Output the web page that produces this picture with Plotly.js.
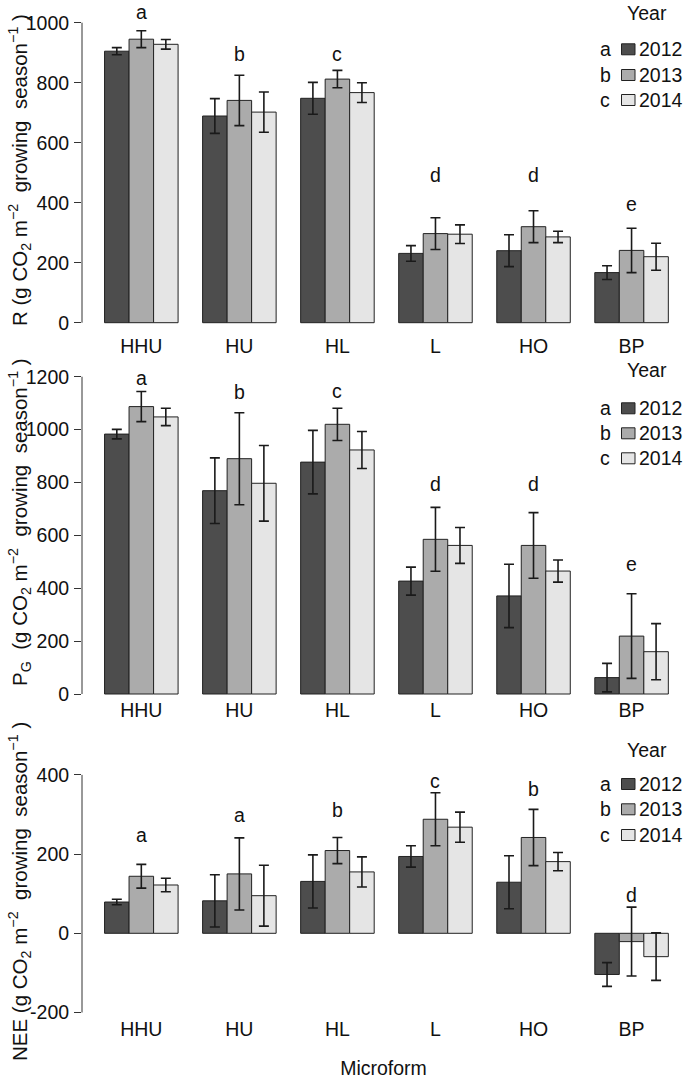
<!DOCTYPE html>
<html>
<head>
<meta charset="utf-8">
<script src="https://cdn.plot.ly/plotly-3.0.1.min.js"></script>
<style>html,body{margin:0;padding:0;background:#fff;}#chart{width:685px;height:1079px;}</style>
</head>
<body>
<div id="chart"></div>
<script>
// ---------------- data ----------------
const categories = ['HHU', 'HU', 'HL', 'L', 'HO', 'BP'];
const years = ['2012', '2013', '2014'];
const yearLetters = ['a', 'b', 'c'];

// R (ecosystem respiration)
const R_mean_2012 = [905, 689, 748, 231, 240, 167];
const R_se_2012   = [12, 58, 53, 26, 53, 23];
const R_mean_2013 = [945, 741, 812, 297, 320, 241];
const R_se_2013   = [28, 84, 29, 53, 53, 74];
const R_mean_2014 = [928, 702, 767, 295, 286, 220];
const R_se_2014   = [16, 67, 33, 31, 19, 45];
const R_letters   = ['a', 'b', 'c', 'd', 'd', 'e'];
const R_letterY   = [1037, 896, 896, 492, 492, 396];
const R_ticks     = [0, 200, 400, 600, 800, 1000];

// PG (gross photosynthesis)
const PG_mean_2012 = [983, 769, 877, 427, 371, 62];
const PG_se_2012   = [18, 124, 120, 53, 120, 54];
const PG_mean_2013 = [1087, 890, 1020, 585, 562, 219];
const PG_se_2013   = [57, 174, 61, 121, 124, 160];
const PG_mean_2014 = [1048, 797, 923, 562, 465, 160];
const PG_se_2014   = [33, 143, 70, 68, 42, 106];
const PG_letters   = ['a', 'b', 'c', 'd', 'd', 'e'];
const PG_letterY   = [1197, 1142, 1147, 794, 794, 492];
const PG_ticks     = [0, 200, 400, 600, 800, 1000, 1200];

// NEE
const NEE_mean_2012 = [79, 82, 131, 194, 129, -104];
const NEE_se_2012   = [7, 66, 67, 27, 67, 30];
const NEE_mean_2013 = [144, 150, 209, 288, 242, -21];
const NEE_se_2013   = [30, 91, 33, 67, 71, 87];
const NEE_mean_2014 = [122, 95, 155, 268, 181, -59];
const NEE_se_2014   = [17, 77, 38, 38, 23, 60];
const NEE_letters   = ['a', 'a', 'b', 'c', 'b', 'd'];
const NEE_letterY   = [248, 300, 312, 385, 364, 97];
const NEE_ticks     = [-200, 0, 200, 400];

// ---------------- style / layout ----------------
const W = 685, H = 1079, ML = 82, PW = W - ML;
const colors = ['#4d4d4d', '#ababab', '#e5e5e5'];
const FONT = 'Liberation Sans, Arial, Helvetica, sans-serif';
const FS = 19.5;
const FS_TITLE = 20.5;
const TXT = '#111111';
const AX = '#333333';
const NB = '\u00a0';

const panels = [
  {
    means: [R_mean_2012, R_mean_2013, R_mean_2014],
    ses: [R_se_2012, R_se_2013, R_se_2014],
    letters: R_letters, letterY: R_letterY, ticks: R_ticks,
    title: 'R (g CO<sub>2</sub> m<sup>\u22122</sup>' + NB + ' growing' + NB + ' season<sup>\u22121</sup>' + NB + ')',
    titlePx: 170,
    zeroPx: 322.7, ppu: 0.3, topPx: 0, botPx: 332.5,
    legYear: 13.3, legRows: [49.3, 75, 100]
  },
  {
    means: [PG_mean_2012, PG_mean_2013, PG_mean_2014],
    ses: [PG_se_2012, PG_se_2013, PG_se_2014],
    letters: PG_letters, letterY: PG_letterY, ticks: PG_ticks,
    title: 'P<sub>G</sub>' + NB + ' (g CO<sub>2</sub> m<sup>\u22122</sup>' + NB + ' growing' + NB + ' season<sup>\u22121</sup>' + NB + ')',
    titlePx: 522,
    zeroPx: 694, ppu: 0.2644, topPx: 352, botPx: 696.5,
    legYear: 370, legRows: [408.3, 433.3, 458.3]
  },
  {
    means: [NEE_mean_2012, NEE_mean_2013, NEE_mean_2014],
    ses: [NEE_se_2012, NEE_se_2013, NEE_se_2014],
    letters: NEE_letters, letterY: NEE_letterY, ticks: NEE_ticks,
    title: 'NEE (g CO<sub>2</sub> m<sup>\u22122</sup>' + NB + ' growing' + NB + ' season<sup>\u22121</sup>' + NB + ')',
    titlePx: 892,
    zeroPx: 933.3, ppu: 0.396, topPx: 740, botPx: 1015.5,
    legYear: 750, legRows: [784, 809.3, 835]
  }
];

const px2x = p => (p - ML) / PW;
const px2y = p => 1 - p / H;

const traces = [];
const annotations = [];
const shapes = [];
const layout = {
  width: W, height: H,
  margin: {l: ML, r: 0, t: 0, b: 0, pad: 0},
  paper_bgcolor: '#ffffff', plot_bgcolor: '#ffffff',
  showlegend: false,
  barmode: 'group', bargap: 0.25, bargroupgap: 0,
  font: {family: FONT, size: FS, color: TXT}
};

panels.forEach((p, k) => {
  const sfx = k === 0 ? '' : String(k + 1);
  const xa = 'x' + sfx, ya = 'y' + sfx;
  p.means.forEach((m, s) => {
    traces.push({
      type: 'bar', name: years[s], x: categories, y: m,
      xaxis: xa, yaxis: ya,
      marker: {color: colors[s], line: {color: '#222222', width: 1}},
      error_y: {type: 'data', array: p.ses[s], visible: true, color: '#1a1a1a', thickness: 1.6, width: 5},
      hoverinfo: 'x+y'
    });
  });
  const r0 = (p.zeroPx - p.botPx) / p.ppu;
  const r1 = (p.zeroPx - p.topPx) / p.ppu;
  layout['xaxis' + sfx] = {
    domain: [0, 1], anchor: ya, type: 'category', categoryorder: 'array', categoryarray: categories,
    range: [-0.605, 5.545], showline: false, ticks: '', showgrid: false, zeroline: false,
    tickfont: {family: FONT, size: FS, color: TXT}, fixedrange: true
  };
  layout['yaxis' + sfx] = {
    domain: [px2y(p.botPx), px2y(p.topPx)], anchor: xa, range: [r0, r1],
    tickmode: 'array', tickvals: p.ticks, ticktext: p.ticks.map(String),
    ticks: 'outside', ticklen: 7, tickwidth: 1, tickcolor: AX, ticklabelstandoff: 1,
    showline: false, showgrid: false, zeroline: false,
    tickfont: {family: FONT, size: FS, color: TXT}, fixedrange: true
  };
  // R-style axis line spanning only the tick range
  shapes.push({
    type: 'line', xref: xa + ' domain', yref: ya, x0: 0, x1: 0,
    y0: Math.min(...p.ticks), y1: Math.max(...p.ticks),
    line: {color: AX, width: 1}
  });
  // significance letters
  p.letters.forEach((t, i) => {
    annotations.push({
      xref: xa, yref: ya, x: categories[i], y: p.letterY[i], text: t,
      showarrow: false, borderpad: 0, font: {family: FONT, size: FS, color: TXT}, yanchor: 'middle'
    });
  });
  // y title
  annotations.push({
    xref: 'paper', yref: 'paper', x: px2x(19), y: px2y(p.titlePx),
    text: p.title, textangle: -90, showarrow: false, xanchor: 'center', yanchor: 'middle',
    font: {family: FONT, size: FS_TITLE, color: TXT}
  });
  // legend block
  annotations.push({
    xref: 'paper', yref: 'paper', x: px2x(647), y: px2y(p.legYear), text: 'Year',
    showarrow: false, xanchor: 'center', yanchor: 'middle', borderpad: 0, font: {family: FONT, size: FS, color: TXT}
  });
  years.forEach((yr, s) => {
    const cy = p.legRows[s];
    annotations.push({
      xref: 'paper', yref: 'paper', x: px2x(605), y: px2y(cy), text: yearLetters[s],
      showarrow: false, xanchor: 'center', yanchor: 'middle', font: {family: FONT, size: FS, color: TXT}
    });
    shapes.push({
      type: 'rect', xref: 'paper', yref: 'paper',
      x0: px2x(621.5), x1: px2x(635), y0: px2y(cy + 5.5), y1: px2y(cy - 5.5),
      fillcolor: colors[s], line: {color: '#222222', width: 1}
    });
    annotations.push({
      xref: 'paper', yref: 'paper', x: px2x(636.5), y: px2y(cy), text: yr,
      showarrow: false, xanchor: 'left', yanchor: 'middle', font: {family: FONT, size: FS, color: TXT}
    });
  });
});

layout.xaxis3.title = {text: 'Microform', font: {family: FONT, size: FS, color: TXT}, standoff: 24};
layout.annotations = annotations;
layout.shapes = shapes;

Plotly.newPlot('chart', traces, layout, {displayModeBar: false, staticPlot: true});
</script>
</body>
</html>
